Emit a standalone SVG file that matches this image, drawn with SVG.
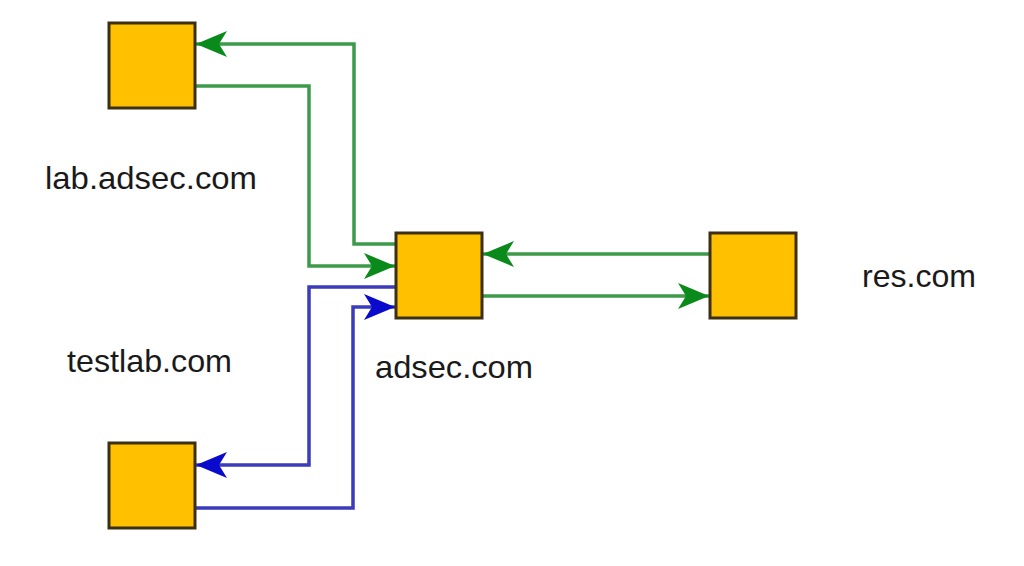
<svg xmlns="http://www.w3.org/2000/svg" width="1024" height="566" viewBox="0 0 1024 566">
<style>
.box{fill:#FFC000;stroke:#3b2f14;stroke-width:3}
.lbl{font-family:"Liberation Sans",Arial,sans-serif;font-size:32px;fill:#1a1a1a}
.g{fill:none;stroke:#3c9a4a;stroke-width:3.5}
.b{fill:none;stroke:#3b3bbb;stroke-width:3.5}
</style>
<defs>
<marker id="ag" markerUnits="userSpaceOnUse" markerWidth="34" markerHeight="28" viewBox="-32 -14 34 28" refX="0" refY="0" orient="auto">
<path d="M0,0 L-31,-13 L-23,0 L-31,13 Z" fill="#0b8a1c"/>
</marker>
<marker id="ab" markerUnits="userSpaceOnUse" markerWidth="34" markerHeight="28" viewBox="-32 -14 34 28" refX="0" refY="0" orient="auto">
<path d="M0,0 L-31,-13 L-23,0 L-31,13 Z" fill="#0a0acc"/>
</marker>
</defs>
<rect width="1024" height="566" fill="#ffffff"/>
<g id="connectors">
<path class="g" d="M396,244 H354 V44 H196" marker-end="url(#ag)"/>
<path class="g" d="M195,86 H309 V266 H395" marker-end="url(#ag)"/>
<path class="b" d="M396,287 H309 V465 H196" marker-end="url(#ab)"/>
<path class="b" d="M195,508 H353 V307 H395" marker-end="url(#ab)"/>
<path class="g" d="M710,254 H483" marker-end="url(#ag)"/>
<path class="g" d="M482,296 H709" marker-end="url(#ag)"/>
</g>
<g id="lab">
<rect class="box" x="109" y="23" width="86" height="85"/>
<text class="lbl" x="45" y="189" textLength="212" lengthAdjust="spacingAndGlyphs">lab.adsec.com</text>
</g>
<g id="adsec">
<rect class="box" x="396" y="233" width="86" height="85"/>
<text class="lbl" x="375" y="378" textLength="158" lengthAdjust="spacingAndGlyphs">adsec.com</text>
</g>
<g id="testlab">
<rect class="box" x="109" y="443" width="86" height="85"/>
<text class="lbl" x="67" y="372" textLength="165" lengthAdjust="spacingAndGlyphs">testlab.com</text>
</g>
<g id="res">
<rect class="box" x="710" y="233" width="86" height="85"/>
<text class="lbl" x="862" y="287" textLength="114" lengthAdjust="spacingAndGlyphs">res.com</text>
</g>
</svg>
